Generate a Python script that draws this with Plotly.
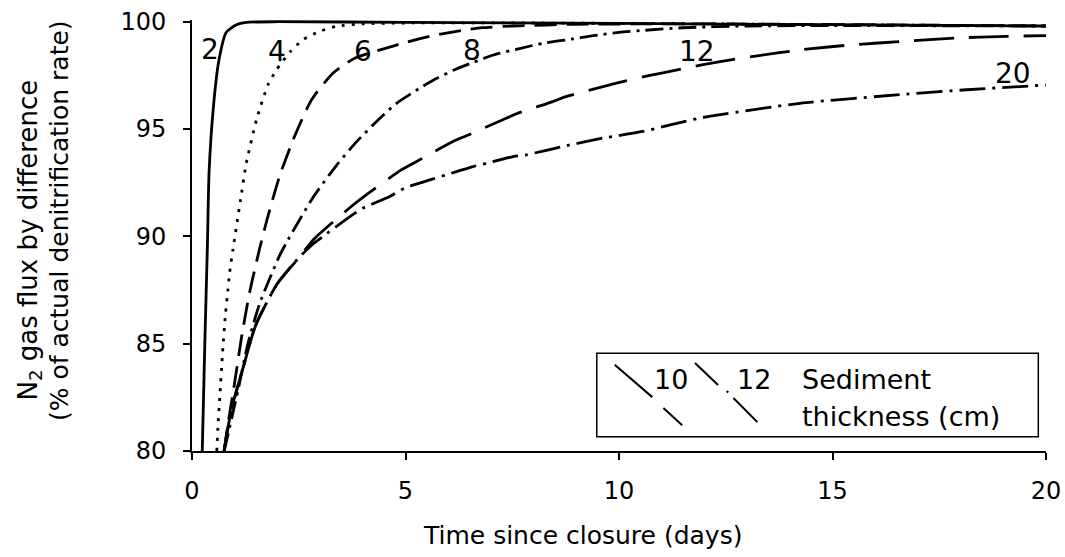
import plotly.graph_objects as go

# N2 flux by difference (% of actual denitrification rate) vs time since closure (days)
# one curve per sediment thickness (cm)
t_2 = [0.24, 0.3, 0.36, 0.4, 0.5, 0.63, 0.8, 1.04, 1.27, 2.0, 5.0, 10.0, 15.0, 20.0]
v_2 = [80.0, 85.0, 89.5, 93.0, 96.0, 98.2, 99.5, 99.86, 99.97, 100.0, 99.97, 99.92, 99.86, 99.8]

t_4 = [0.58, 0.61, 0.65, 0.71, 0.78, 0.84, 0.88, 0.96, 1.16, 1.27, 1.52, 1.78, 1.98, 2.3, 2.6,
       2.99, 3.38, 4.0, 5.0, 8.0, 12.0, 20.0]
v_4 = [80.0, 81.2, 82.5, 84.4, 86.3, 87.5, 88.3, 89.4, 92.0, 93.4, 95.5, 97.06, 97.76, 98.6, 99.16,
       99.55, 99.78, 99.9, 99.94, 99.94, 99.9, 99.8]

t_6 = [0.76, 0.8, 1.0, 1.16, 1.35, 1.58, 1.76, 2.05, 2.4, 2.8, 3.3, 3.81, 4.51, 5.03, 5.64,
       6.35, 6.8, 7.5, 9.0, 12.0, 20.0]
v_6 = [80.0, 80.7, 83.2, 85.3, 87.4, 89.4, 90.8, 92.8, 94.65, 96.36, 97.6, 98.3, 98.75, 99.05, 99.35,
       99.6, 99.72, 99.8, 99.88, 99.9, 99.8]

t_8 = [0.75, 0.8, 1.08, 1.31, 1.59, 2.05, 2.21, 2.83, 3.38, 3.85, 4.4, 4.79, 5.33, 5.72, 6.19,
       6.58, 7.06, 7.67, 8.23, 8.93, 9.4, 10.0, 10.6, 11.5, 13.0, 15.0, 20.0]
v_8 = [80.0, 80.4, 82.85, 85.0, 86.9, 89.1, 89.7, 91.8, 93.3, 94.4, 95.5, 96.2, 96.9, 97.35, 97.8,
       98.1, 98.45, 98.75, 99.0, 99.2, 99.35, 99.5, 99.6, 99.72, 99.8, 99.82, 99.8]

t_12 = [0.75, 0.92, 1.2, 1.5, 2.0, 2.5, 2.87, 3.73, 4.08, 4.9, 5.26, 6.11, 6.43, 7.28, 7.6,
        8.45, 8.77, 9.63, 9.94, 10.72, 11.11, 11.97, 12.3, 13.2, 14.3, 15.5, 16.65, 17.9, 19.07, 20.0]
v_12 = [80.0, 81.9, 83.9, 85.9, 87.8, 89.0, 89.9, 91.39, 91.93, 93.1, 93.49, 94.42, 94.69, 95.43, 95.71,
        96.28, 96.52, 96.98, 97.14, 97.5, 97.65, 98.0, 98.12, 98.4, 98.7, 98.93, 99.08, 99.24, 99.32, 99.35]

t_20 = [0.75, 0.92, 1.2, 1.5, 2.0, 2.5, 2.87, 3.07, 3.65, 4.0, 4.63, 4.98, 5.57, 5.96, 6.58,
        6.9, 7.52, 7.83, 8.69, 9.63, 10.56, 11.89, 14.24, 16.57, 18.14, 20.0]
v_20 = [80.0, 81.9, 83.9, 85.9, 87.8, 89.0, 89.7, 90.0, 90.85, 91.31, 91.86, 92.25, 92.63, 92.87, 93.25,
        93.41, 93.72, 93.8, 94.19, 94.58, 94.89, 95.51, 96.2, 96.6, 96.83, 97.05]

# curve labels (sediment thickness, cm) and where they sit
label_text = ["2", "4", "6", "8", "12", "20"]
label_t = [0.41, 2.0, 4.0, 6.55, 11.82, 19.22]
label_v = [98.7, 98.6, 98.6, 98.65, 98.6, 97.58]

x_ticks = [0, 5, 10, 15, 20]
y_ticks = [80, 85, 90, 95, 100]

FONT = "DejaVu Sans, Liberation Sans, Arial, sans-serif"

fig = go.Figure()

curves = [
    (t_2, v_2, "solid"),
    (t_4, v_4, "3px,7px"),
    (t_6, v_6, "22px,10px"),
    (t_8, v_8, "18px,6px,3px,6px"),
    (t_12, v_12, "40px,15px"),
    (t_20, v_20, "26px,7px,3px,7px"),
]
for t, v, dash in curves:
    fig.add_trace(go.Scatter(
        x=t, y=v, mode="lines",
        line=dict(color="black", width=2.8, dash=dash, shape="spline", smoothing=0.6),
        showlegend=False, hoverinfo="skip"
    ))

for txt, t, v in zip(label_text, label_t, label_v):
    fig.add_annotation(x=t, y=v, text=txt, showarrow=False,
                       font=dict(family=FONT, size=28, color="black"))

# hand-drawn style legend box
fig.add_shape(type="rect", xref="paper", yref="paper", x0=0.474, x1=0.991, y0=0.033, y1=0.227,
              line=dict(color="black", width=1.5), fillcolor="white")
legend_segs = [
    (0.495, 0.200, 0.539, 0.125), (0.552, 0.100, 0.574, 0.060),
    (0.589, 0.204, 0.616, 0.153), (0.626, 0.139, 0.628, 0.136), (0.634, 0.123, 0.662, 0.067),
]
for x0, y0, x1, y1 in legend_segs:
    fig.add_shape(type="line", xref="paper", yref="paper", x0=x0, y0=y0, x1=x1, y1=y1,
                  line=dict(color="black", width=2))
for txt, x, y, anchor in [("10", 0.561, 0.165, "center"), ("12", 0.658, 0.165, "center"),
                          ("Sediment", 0.712, 0.165, "left"), ("thickness (cm)", 0.712, 0.079, "left")]:
    fig.add_annotation(x=x, y=y, xref="paper", yref="paper", text=txt, showarrow=False,
                       xanchor=anchor, yanchor="middle",
                       font=dict(family=FONT, size=27, color="black"))

# axis titles
fig.add_annotation(x=-0.19, y=0.49, xref="paper", yref="paper", textangle=-90,
                   text="N<sub>2</sub> gas flux by difference",
                   showarrow=False, xanchor="center", yanchor="middle",
                   font=dict(family=FONT, size=26, color="black"))
fig.add_annotation(x=-0.155, y=0.535, xref="paper", yref="paper", textangle=-90,
                   text="(% of actual denitrification rate)",
                   showarrow=False, xanchor="center", yanchor="middle",
                   font=dict(family=FONT, size=25, color="black"))
fig.add_annotation(x=0.457, y=-0.195, xref="paper", yref="paper",
                   text="Time since closure (days)", showarrow=False,
                   xanchor="center", yanchor="middle",
                   font=dict(family=FONT, size=25, color="black"))

axis_style = dict(showline=True, linecolor="black", linewidth=2, ticks="outside",
                  ticklen=7, tickwidth=2, tickcolor="black", showgrid=False, zeroline=False,
                  automargin=False, tickfont=dict(family=FONT, size=24, color="black"))
fig.update_xaxes(range=[0, 20], tickvals=x_ticks, ticklabelstandoff=10, **axis_style)
fig.update_yaxes(range=[80, 100.08], tickvals=y_ticks, ticklabelstandoff=12, **axis_style)

fig.update_layout(
    width=1065, height=557,
    margin=dict(l=192, r=19, t=20, b=106),
    plot_bgcolor="white", paper_bgcolor="white",
    font=dict(family=FONT, color="black"),
)

fig.write_html("out.html", config={"displayModeBar": False},
               post_script="document.body.style.margin='0';")
